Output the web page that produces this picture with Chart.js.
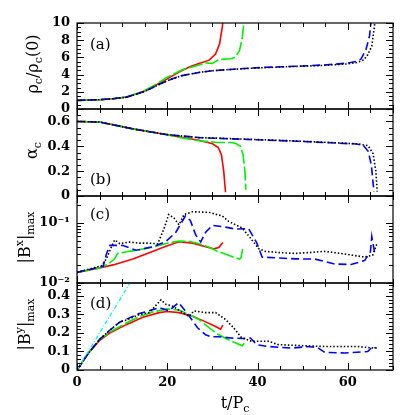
<!DOCTYPE html>
<html>
<head>
<meta charset="utf-8">
<script src="https://cdn.jsdelivr.net/npm/chart.js@4.4.0/dist/chart.umd.min.js"></script>
<style>
  html, body { margin: 0; padding: 0; background: #fff; }
  #wrap { position: relative; width: 415px; height: 415px; }
  #wrap canvas { position: absolute; left: 0; top: 0; }
</style>
</head>
<body>
<div id="wrap">
  <canvas id="pa" width="415" height="415"></canvas>
  <canvas id="pb" width="415" height="415"></canvas>
  <canvas id="pc" width="415" height="415"></canvas>
  <canvas id="pd" width="415" height="415"></canvas>
</div>
<script>
// ---- data: [t/Pc, value] pairs ----
// panel (a) rho_c / rho_c(0)
const rhoRed = [[0,1],[5,1.08],[8,1.2],[11,1.4],[13,1.75],[15,2.1],[17,2.65],[20,3.5],[22.6,4.3],[25,4.9],[27,5.3],[29.2,5.65],[30.7,6.4],[31.6,7.6],[32.2,9.6],[32.4,10.5]];
const rhoGreen = [[0,1],[5,1.08],[8,1.2],[11,1.4],[13,1.75],[15,2.15],[17,2.7],[19.7,3.6],[23.4,4.6],[26.3,5.0],[28.5,5.35],[30,5.3],[31.4,5.75],[34,5.85],[35.1,6.0],[36,6.8],[36.6,8.2],[36.9,9.7]];
const rhoBlue = [[0,1],[5,1.08],[8,1.2],[11,1.38],[13,1.7],[15,2.05],[17,2.55],[19,3.05],[21,3.5],[23,3.85],[25,4.05],[27,4.25],[30,4.45],[34,4.6],[38,4.75],[42,4.85],[46,4.92],[50,5.0],[54,5.1],[57,5.2],[60,5.35],[62,5.55],[62.9,5.8],[64,6.9],[64.8,8.5],[65.2,10.5]];
const rhoBlack = [[0,1],[5,1.08],[8,1.2],[11,1.38],[13,1.7],[15,2.05],[17,2.55],[19,3.05],[21,3.5],[23,3.85],[25,4.05],[27,4.25],[30,4.45],[34,4.6],[38,4.72],[42,4.82],[46,4.9],[50,4.98],[54,5.05],[57,5.15],[60,5.25],[62,5.4],[63.5,5.7],[64.4,6.3],[65.3,7.3],[65.7,8.9],[66.1,10.5]];

// panel (b) alpha_c
const alphaRed = [[0,0.6],[5,0.595],[12.4,0.54],[19.7,0.495],[23.4,0.47],[27,0.448],[30,0.42],[31.3,0.39],[32,0.33],[32.5,0.2],[32.9,0.03]];
const alphaGreen = [[0,0.6],[5,0.595],[12.4,0.54],[19.7,0.495],[22.7,0.47],[27,0.445],[30.6,0.432],[34.3,0.43],[35.3,0.42],[36.2,0.40],[36.8,0.33],[37.2,0.2],[37.4,0.05]];
const alphaBlue = [[0,0.6],[5,0.595],[12.4,0.54],[19.7,0.495],[27,0.47],[34,0.46],[41.7,0.45],[49,0.44],[56.3,0.428],[62,0.418],[63.5,0.405],[64.5,0.36],[65.2,0.25],[65.6,0.1],[65.8,0.035]];
const alphaBlack = [[0,0.6],[5,0.595],[12.4,0.54],[19.7,0.495],[27,0.47],[34,0.462],[41.7,0.452],[49,0.442],[56.3,0.43],[62,0.42],[64.5,0.405],[65.6,0.34],[66.2,0.2],[66.5,0.035]];

// panel (c) |B^x|_max
const bxRed = [[0,0.015],[5,0.0177],[8,0.02],[12.4,0.025],[16,0.032],[19.7,0.041],[22.6,0.0485],[25.6,0.046],[28.5,0.04],[30.3,0.037],[31.4,0.039],[32.3,0.047]];
const bxGreen = [[0,0.015],[5,0.0178],[7,0.021],[8.3,0.025],[9,0.031],[11,0.033],[14,0.036],[17,0.04],[20,0.046],[22.6,0.05],[25,0.049],[27,0.045],[29,0.04],[31,0.034],[34.3,0.0275],[36,0.025],[36.3,0.026],[36.6,0.034],[36.9,0.041]];
const bxBlue = [[0,0.015],[5.8,0.019],[6.5,0.03],[7.3,0.0424],[10.2,0.042],[13.1,0.035],[16.8,0.04],[19.7,0.049],[21.9,0.07],[24,0.13],[25.1,0.11],[26.3,0.063],[27.4,0.048],[28.5,0.07],[30,0.091],[32.9,0.085],[35.1,0.079],[38,0.08],[39.8,0.047],[41,0.027],[45,0.026],[48.3,0.0252],[52.7,0.025],[57.1,0.0207],[60.7,0.0203],[63.7,0.0236],[65,0.033],[65.3,0.059],[65.9,0.033]];
const bxBlack = [[0,0.015],[5.4,0.0193],[6.5,0.025],[7.5,0.038],[8.35,0.052],[9.5,0.045],[11.6,0.048],[13.8,0.046],[16,0.046],[17.9,0.045],[19.3,0.081],[20.3,0.138],[21.5,0.12],[22.6,0.093],[23.7,0.138],[25.6,0.153],[29.2,0.15],[32.2,0.13],[33.6,0.106],[36.6,0.082],[38.5,0.055],[40.2,0.0375],[41.7,0.0336],[45,0.032],[48.3,0.031],[51,0.032],[54.9,0.0336],[58.5,0.031],[61,0.029],[63.7,0.027],[65.5,0.029],[66.4,0.044]];

// panel (d) |B^y|_max
const byRed = [[0,0],[2.5,0.09],[5,0.16],[7.25,0.2],[10.9,0.245],[14.6,0.285],[18.2,0.31],[20,0.316],[22.6,0.31],[25.6,0.29],[28.5,0.26],[30.7,0.235],[31.8,0.22],[32.3,0.242]];
const byGreen = [[0,0],[2.5,0.09],[5,0.165],[8,0.215],[11,0.255],[14,0.29],[17,0.315],[20,0.33],[22.6,0.324],[24.8,0.3],[27,0.273],[29.3,0.228],[31.4,0.19],[34.3,0.155],[36.6,0.131],[37.1,0.146]];
const byBlue = [[0,0],[2.5,0.09],[5,0.165],[7.5,0.22],[9.45,0.258],[10.5,0.27],[13.8,0.305],[16,0.32],[18.2,0.337],[20.4,0.32],[22.5,0.364],[23.7,0.328],[25.2,0.28],[26.7,0.228],[28.5,0.19],[29.6,0.18],[31.4,0.18],[34,0.173],[36.5,0.17],[38.4,0.173],[39.8,0.137],[42.4,0.127],[47.5,0.118],[51.2,0.127],[53.4,0.12],[54.9,0.095],[59.3,0.092],[64.4,0.1],[65.5,0.127],[66.2,0.118]];
const byBlack = [[0,0],[2.5,0.09],[5,0.165],[7.5,0.22],[9.5,0.26],[11,0.27],[13.8,0.3],[16,0.31],[18.6,0.379],[19.7,0.355],[21.2,0.345],[23.4,0.31],[24.8,0.29],[25.9,0.319],[28.5,0.31],[30.7,0.31],[32.9,0.273],[34.7,0.228],[36.5,0.173],[38.7,0.155],[42.4,0.155],[44.6,0.137],[51.2,0.13],[54.9,0.127],[62.2,0.127],[65.9,0.118],[66.6,0.12]];
const byLinear = [[0,0],[12.5,0.5]];

// ---- tick labels ----
const xTickLabels = [0, 20, 40, 60];
const rhoTickLabels = [0, 2, 4, 6, 8, 10];
const alphaTickLabels = [0, 0.2, 0.4, 0.6];
const bxTickLabels = [0.01, 0.1];
const byTickLabels = [0, 0.1, 0.2, 0.3, 0.4];

const FONT = 'DejaVu Serif';
const TICK_FONT = { family: FONT, weight: 'bold', size: 13 };

function range(a, b, step) {
  const out = [];
  for (let v = a; v <= b + 1e-9; v += step) out.push(+v.toFixed(6));
  return out;
}

// rich text (sub/superscripts), optionally rotated
function drawRich(ctx, parts, cx, cy, rotated) {
  ctx.save();
  ctx.translate(cx, cy);
  if (rotated) ctx.rotate(-Math.PI / 2);
  ctx.fillStyle = '#000';
  ctx.textBaseline = 'alphabetic';
  ctx.textAlign = 'left';
  let total = 0;
  parts.forEach(p => { ctx.font = p.f; total += ctx.measureText(p.t).width; });
  let x = -total / 2;
  parts.forEach(p => {
    ctx.font = p.f;
    ctx.fillText(p.t, x, p.dy || 0);
    x += ctx.measureText(p.t).width;
  });
  ctx.restore();
}

const MAIN = '16px ' + FONT;
const SMALL = '11px ' + FONT;
const n = t => ({ t, f: MAIN });
const sub = t => ({ t, f: SMALL, dy: 4 });
const sup = t => ({ t, f: SMALL, dy: -7 });

// frame, inward ticks on all four sides, panel letter and axis titles
const framePlugin = {
  id: 'frame',
  afterDraw(chart, args, o) {
    const ctx = chart.ctx;
    const { left, right, top, bottom } = chart.chartArea;
    const xs = chart.scales.x, ys = chart.scales.y;
    ctx.save();
    ctx.strokeStyle = '#000';
    ctx.lineWidth = 1.2;
    ctx.strokeRect(left, top, right - left, bottom - top);
    ctx.lineWidth = 1;
    ctx.beginPath();
    range(0, 70, 5).forEach(v => {
      const px = Math.round(xs.getPixelForValue(v)) + 0.5;
      const len = xTickLabels.includes(v) ? 7 : 4;
      ctx.moveTo(px, bottom); ctx.lineTo(px, bottom - len);
      ctx.moveTo(px, top); ctx.lineTo(px, top + len);
    });
    const yTick = (v, len) => {
      const py = Math.round(ys.getPixelForValue(v)) + 0.5;
      if (py < top - 0.5 || py > bottom + 0.5) return;
      ctx.moveTo(left, py); ctx.lineTo(left + len, py);
      ctx.moveTo(right, py); ctx.lineTo(right - len, py);
    };
    o.minor.forEach(v => yTick(v, 4));
    o.major.forEach(v => yTick(v, 7));
    ctx.stroke();

    ctx.fillStyle = '#000';
    ctx.font = '15px ' + FONT;
    ctx.textAlign = 'left';
    ctx.textBaseline = 'alphabetic';
    ctx.fillText(o.letter, 90, o.letterY);

    drawRich(ctx, o.title, o.titleX, (top + bottom) / 2 - 2, true);
    if (o.xTitle) drawRich(ctx, o.xTitle, (left + right) / 2, 408, false);
    ctx.restore();
  }
};

function ds(points, color, dash, width) {
  return {
    data: points.map(([x, y]) => ({ x, y })),
    borderColor: color,
    borderWidth: width || 1.6,
    borderDash: dash,
    pointRadius: 0,
    fill: false,
    tension: 0
  };
}

function makePanel(id, datasets, panelTop, panelBottom, y, frame, showX) {
  const x = {
    type: 'linear', min: 0, max: 70,
    display: showX,
    grid: { display: false, drawTicks: false },
    border: { display: false },
    afterBuildTicks: s => { s.ticks = xTickLabels.map(v => ({ value: v })); },
    ticks: { font: TICK_FONT, color: '#000', padding: 5, maxRotation: 0 }
  };
  if (showX) x.afterFit = s => { s.height = 415 - panelBottom; };
  const yLabels = y.labels;
  const yAxis = {
    type: y.type, min: y.min, max: y.max,
    grid: { display: false, drawTicks: false },
    border: { display: false },
    afterBuildTicks: s => { s.ticks = yLabels.map(v => ({ value: v })); },
    afterFit: s => { s.width = 77; },
    ticks: { font: TICK_FONT, color: '#000', padding: 7, autoSkip: false, callback: y.fmt }
  };
  return new Chart(document.getElementById(id), {
    type: 'line',
    data: { datasets },
    plugins: [framePlugin],
    options: {
      responsive: false,
      animation: false,
      events: [],
      layout: { padding: { top: panelTop, bottom: showX ? 0 : 415 - panelBottom, left: 0, right: 22 } },
      plugins: { legend: { display: false }, tooltip: { enabled: false }, frame },
      scales: { x, y: yAxis }
    }
  });
}

const RED = '#ff0000', GREEN = '#00ee00', BLUE = '#0000ff', BLACK = '#000000', CYAN = '#00e5ff';
const D_GREEN = [14, 3], D_BLUE = [8, 4], D_BLACK = [1.5, 2];

makePanel('pa', [
  ds(rhoBlack, BLACK, D_BLACK, 1.6),
  ds(rhoBlue, BLUE, D_BLUE),
  ds(rhoGreen, GREEN, D_GREEN),
  ds(rhoRed, RED, [])
], 23, 109, { type: 'linear', min: 0, max: 10, labels: rhoTickLabels, fmt: v => String(v) }, {
  major: rhoTickLabels, minor: range(0, 10, 0.5), letter: '(a)', letterY: 49, titleX: 38,
  title: [n('ρ'), sub('c'), n('/'), n('ρ'), sub('c'), n('(0)')]
}, false);

makePanel('pb', [
  ds(alphaBlack, BLACK, D_BLACK, 1.6),
  ds(alphaBlue, BLUE, D_BLUE),
  ds(alphaGreen, GREEN, D_GREEN),
  ds(alphaRed, RED, [])
], 109, 196, { type: 'linear', min: 0, max: 0.7, labels: alphaTickLabels, fmt: v => (v === 0 ? '0' : v.toFixed(1)) }, {
  major: alphaTickLabels, minor: range(0, 0.7, 0.05), letter: '(b)', letterY: 184, titleX: 37,
  title: [n('α'), sub('c')]
}, false);

makePanel('pc', [
  ds(bxBlack, BLACK, D_BLACK, 1.6),
  ds(bxBlue, BLUE, D_BLUE),
  ds(bxGreen, GREEN, D_GREEN),
  ds(bxRed, RED, [])
], 196, 283, { type: 'logarithmic', min: 0.01, max: 0.28, labels: bxTickLabels, fmt: v => (v < 0.05 ? '10⁻²' : '10⁻¹') }, {
  major: bxTickLabels,
  minor: [0.02, 0.03, 0.04, 0.05, 0.06, 0.07, 0.08, 0.09, 0.2],
  letter: '(c)', letterY: 219, titleX: 30,
  title: [n('|B'), sup('x'), n('|'), sub('max')]
}, false);

makePanel('pd', [
  ds(byLinear, CYAN, [4, 2, 1, 2], 1.2),
  ds(byBlack, BLACK, D_BLACK, 1.6),
  ds(byBlue, BLUE, D_BLUE),
  ds(byGreen, GREEN, D_GREEN),
  ds(byRed, RED, [])
], 283, 370, { type: 'linear', min: 0, max: 0.47, labels: byTickLabels, fmt: v => (v === 0 ? '0' : v.toFixed(1)) }, {
  major: byTickLabels, minor: range(0, 0.46, 0.02), letter: '(d)', letterY: 308, titleX: 30,
  title: [n('|B'), sup('y'), n('|'), sub('max')],
  xTitle: [n('t/P'), sub('c')]
}, true);
</script>
</body>
</html>
